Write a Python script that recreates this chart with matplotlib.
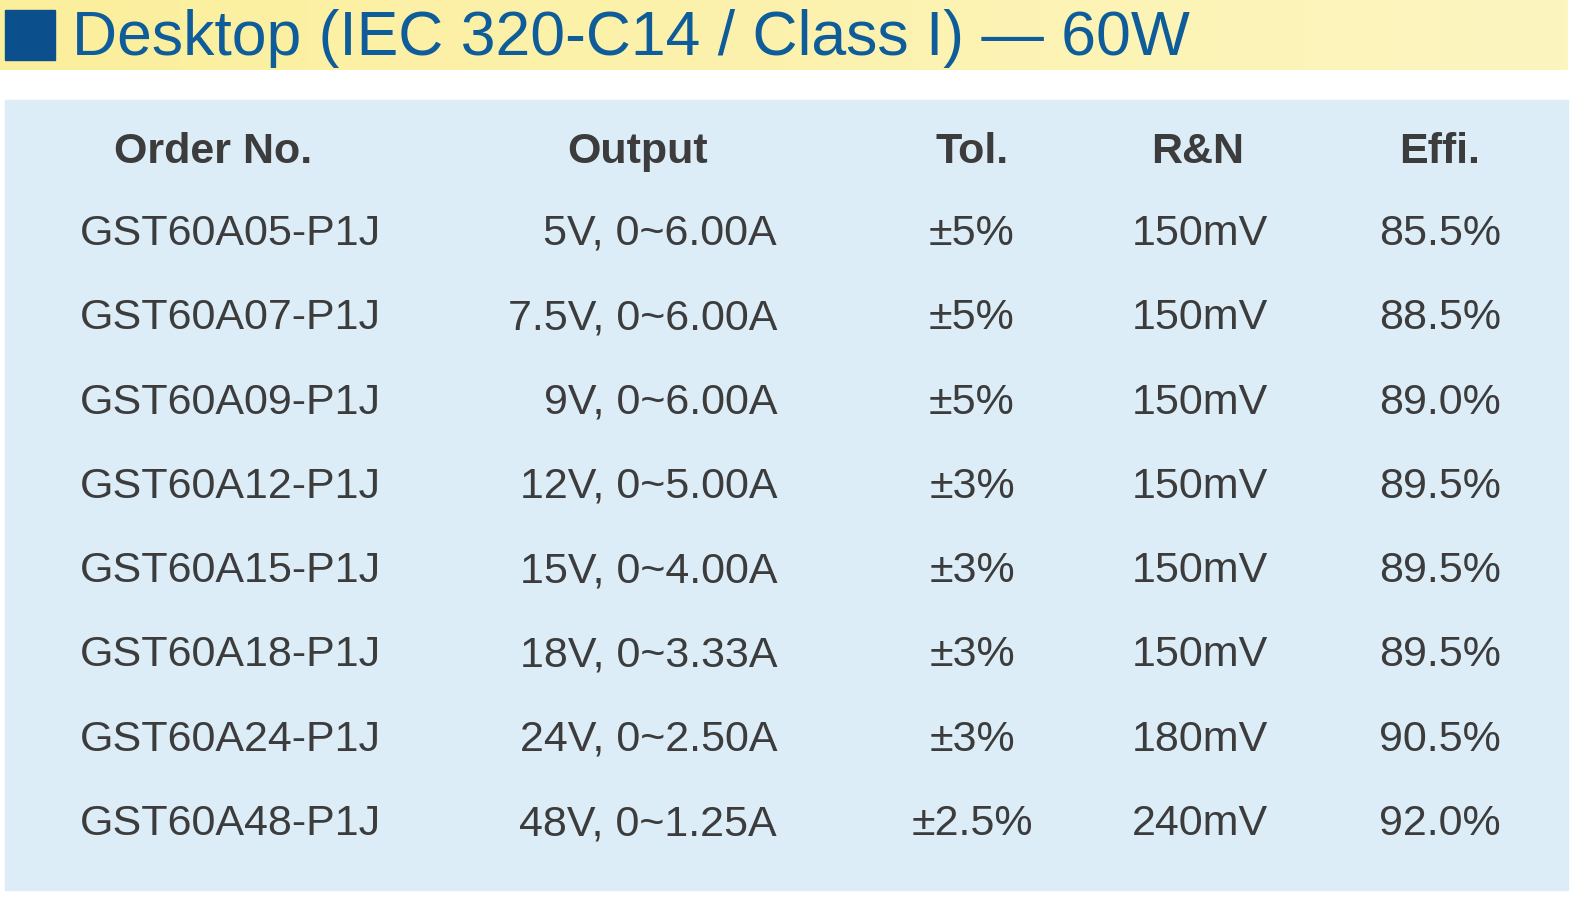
import matplotlib.pyplot as plt
from matplotlib.patches import Rectangle
from matplotlib.colors import LinearSegmentedColormap
import numpy as np

title = 'Desktop (IEC 320-C14 / Class I) — 60W'
headers = ['Order No.', 'Output', 'Tol.', 'R&N', 'Effi.']
order_no = ['GST60A05-P1J', 'GST60A07-P1J', 'GST60A09-P1J', 'GST60A12-P1J',
            'GST60A15-P1J', 'GST60A18-P1J', 'GST60A24-P1J', 'GST60A48-P1J']
output = ['5V, 0~6.00A', '7.5V, 0~6.00A', '9V, 0~6.00A', '12V, 0~5.00A',
          '15V, 0~4.00A', '18V, 0~3.33A', '24V, 0~2.50A', '48V, 0~1.25A']
tol = ['±5%', '±5%', '±5%', '±3%', '±3%', '±3%', '±3%', '±2.5%']
rn = ['150mV', '150mV', '150mV', '150mV', '150mV', '150mV', '180mV', '240mV']
effi = ['85.5%', '88.5%', '89.0%', '89.5%', '89.5%', '89.5%', '90.5%', '92.0%']

fam = ['Liberation Sans', 'DejaVu Sans']
txt = '#3c3c3c'

fig = plt.figure(figsize=(15.8, 8.99), dpi=100)
ax = fig.add_axes([0, 0, 1, 1])
ax.set_xlim(0, 1580)
ax.set_ylim(899, 0)
ax.axis('off')

# title band, yellow fading to the right
grad = np.linspace(0, 1, 256).reshape(1, -1)
cm = LinearSegmentedColormap.from_list('y', ['#fbef9c', '#fdf5c0'])
ax.imshow(grad, cmap=cm, extent=(0, 1568, 70, 0), aspect='auto')
ax.add_patch(Rectangle((5, 10), 50, 50, color='#0b4f8c'))
ax.text(72, 38, title, fontsize=45, color='#0e5c99', family=fam,
        va='center', ha='left')

# table background
ax.add_patch(Rectangle((5, 100), 1563, 790, color='#dcedf8'))

hx = [213, 638, 972, 1198, 1440]
for x, h in zip(hx, headers):
    ax.text(x, 152, h, fontsize=31, fontweight='bold', color=txt, family=fam,
            ha='center', va='center')

ys = 234 + 84.3 * np.arange(len(order_no))
for i, y in enumerate(ys):
    ax.text(80, y, order_no[i], fontsize=31, color=txt, family=fam, ha='left', va='center')
    ax.text(777, y, output[i], fontsize=31, color=txt, family=fam, ha='right', va='center')
    ax.text(972, y, tol[i], fontsize=31, color=txt, family=fam, ha='center', va='center')
    ax.text(1200, y, rn[i], fontsize=31, color=txt, family=fam, ha='center', va='center')
    ax.text(1440, y, effi[i], fontsize=31, color=txt, family=fam, ha='center', va='center')

fig.savefig('out.png', dpi=100)
